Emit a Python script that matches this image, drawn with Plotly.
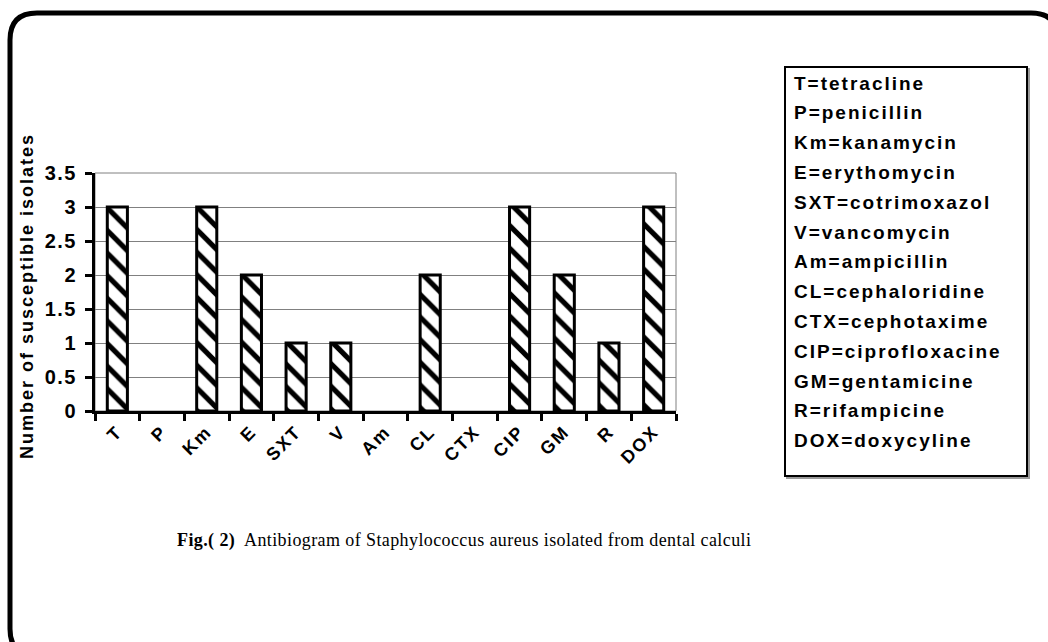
import plotly.graph_objects as go

# ---- data ----
codes = ["T", "P", "Km", "E", "SXT", "V", "Am", "CL", "CTX", "CIP", "GM", "R", "DOX"]
isolates = [3, 0, 3, 2, 1, 1, 0, 2, 0, 3, 2, 1, 3]
drug_names = ["tetracline", "penicillin", "kanamycin", "erythomycin", "cotrimoxazol",
              "vancomycin", "ampicillin", "cephaloridine", "cephotaxime",
              "ciprofloxacine", "gentamicine", "rifampicine", "doxycyline"]
y_tick_vals = [0, 0.5, 1, 1.5, 2, 2.5, 3, 3.5]
y_tick_text = ["0", "0.5", "1", "1.5", "2", "2.5", "3", "3.5"]
y_title = "Number of susceptible isolates"
caption_bold = "Fig.( 2)"
caption_rest = "Antibiogram of Staphylococcus aureus isolated from dental calculi"

# ---- page geometry (pixels) ----
W, H = 1048, 642
PL, PR, PT, PB = 95, 676, 173, 411


def fx(x):
    return (x - PL) / (PR - PL)


def fy(y):
    return (PB - y) / (PB - PT)


SANS = "Liberation Sans, Arial, sans-serif"
SERIF = "Liberation Serif, Times New Roman, serif"

fig = go.Figure()
fig.add_trace(go.Bar(
    x=codes, y=isolates, width=0.45,
    marker=dict(color="white",
                line=dict(color="black", width=[3 if v > 0 else 0 for v in isolates]),
                pattern=dict(shape="\\", fgcolor="black", bgcolor="white",
                             fgopacity=1, size=16, solidity=0.32)),
    hoverinfo="skip",
))

shapes = []

# rounded outer frame
fl, ft, fr, fb, rad = 10, 13, 1058, 656, 27
pts = [
    ("M", (fl + rad, ft)), ("L", (fr - rad, ft)), ("Q", (fr, ft), (fr, ft + rad)),
    ("L", (fr, fb - rad)), ("Q", (fr, fb), (fr - rad, fb)),
    ("L", (fl + rad, fb)), ("Q", (fl, fb), (fl, fb - rad)),
    ("L", (fl, ft + rad)), ("Q", (fl, ft), (fl + rad, ft)),
]
path = ""
for seg in pts:
    cmd = seg[0]
    coords = " ".join(f"{fx(p[0]):.5f},{fy(p[1]):.5f}" for p in seg[1:])
    path += f"{cmd}{coords} "
path += "Z"
shapes.append(dict(type="path", xref="paper", yref="paper", path=path,
                   line=dict(color="black", width=5)))

# plot area border (grey on top and right)
shapes.append(dict(type="rect", xref="paper", yref="paper", x0=0, x1=1, y0=0, y1=1,
                   line=dict(color="#808080", width=1), layer="below"))

# legend box with slight shadow
bl, bt, br, bb = 785, 67, 1027, 476
shapes.append(dict(type="rect", xref="paper", yref="paper",
                   x0=fx(bl + 2), x1=fx(br + 2), y0=fy(bb + 2), y1=fy(bt + 2),
                   line=dict(color="#9a9a9a", width=2)))
shapes.append(dict(type="rect", xref="paper", yref="paper",
                   x0=fx(bl), x1=fx(br), y0=fy(bb), y1=fy(bt),
                   fillcolor="white", line=dict(color="black", width=2)))

annotations = []
for i, (c, n) in enumerate(zip(codes, drug_names)):
    annotations.append(dict(
        xref="paper", yref="paper", x=fx(792), y=fy(83 + i * 29.8),
        xanchor="left", yanchor="middle", align="left", showarrow=False,
        text=f"{c}={n}", font=dict(family=SANS, size=19, color="black", weight="bold"),
    ))

annotations.append(dict(
    xref="paper", yref="paper", x=fx(27), y=fy(296), textangle=-90,
    xanchor="center", yanchor="middle", showarrow=False, text=y_title,
    font=dict(family=SANS, size=18, color="black", weight="bold"),
))

caption_index = len(annotations)
annotations.append(dict(
    xref="paper", yref="paper", x=fx(175), y=fy(540),
    xanchor="left", yanchor="middle", align="left", showarrow=False,
    text=f"<b>{caption_bold}</b>  {caption_rest}",
    font=dict(family=SERIF, size=18, color="black"),
))

fig.update_layout(
    width=W, height=H,
    margin=dict(l=PL, r=W - PR, t=PT, b=H - PB, pad=0),
    paper_bgcolor="white", plot_bgcolor="white",
    showlegend=False,
    shapes=shapes, annotations=annotations,
    xaxis=dict(
        type="category", range=[-0.5, len(codes) - 0.5], tickson="boundaries",
        ticks="outside", ticklen=7, tickwidth=3, tickcolor="black",
        showline=True, linewidth=3, linecolor="black", showgrid=False,
        tickangle=-45,
        tickfont=dict(family=SANS, size=18, color="black", weight="bold"),
    ),
    yaxis=dict(
        range=[0, 3.5], tickvals=y_tick_vals, ticktext=y_tick_text,
        ticks="outside", ticklen=7, tickwidth=3, tickcolor="black",
        ticklabelstandoff=4,
        showline=True, linewidth=3, linecolor="black",
        showgrid=True, gridcolor="#808080", gridwidth=1, zeroline=False,
        tickfont=dict(family=SANS, size=20, color="black", weight="bold"),
    ),
)

# loose letter spacing on the sans-serif labels, tighter on the serif caption
spacing_js = """
var st = document.createElement('style');
st.textContent = '.xtick text {letter-spacing: 2px;} ' +
                 '.ytick text {letter-spacing: 1.5px;} ' +
                 '.annotation-text {letter-spacing: 2px;} ' +
                 '.annotation[data-index="%d"] .annotation-text {letter-spacing: 0.4px;}';
document.head.appendChild(st);
""" % caption_index

fig.write_html("out.html", post_script=spacing_js,
               config={"displayModeBar": False, "staticPlot": True})
